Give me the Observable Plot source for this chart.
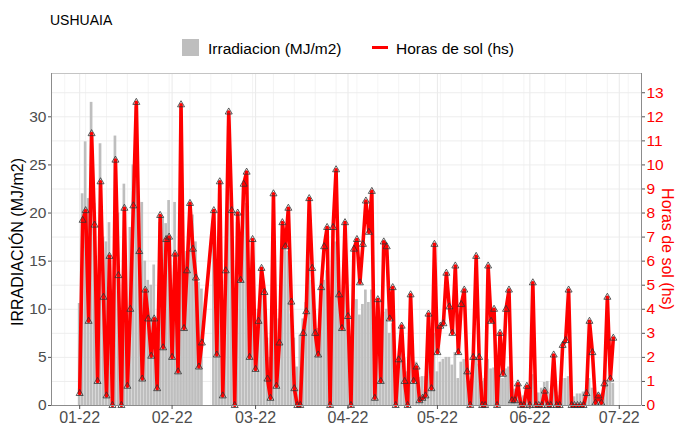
<!DOCTYPE html>
<html><head><meta charset="utf-8">
<script src="https://cdn.jsdelivr.net/npm/d3@7"></script>
<script src="https://cdn.jsdelivr.net/npm/@observablehq/plot@0.6"></script>
<style>
body{margin:0;background:#fff;}
#chart{width:676px;height:425px;}
</style></head><body>
<div id="chart"></div>
<script>
// ---- data (daily values, 2022-01-01 .. 2022-06-29) ----
const inicio = "2022-01-01";
const irradiacion = [
 10.6,22.0,27.4,21.5,31.5,21.0,11.0,27.2,17.5,17.0,19.0,12.0,28.0,20.0,8.0,23.0,10.0,18.5,25.0,31.0,20.0,21.1,15.0,13.0,12.5,14.6,9.0,19.0,19.6,18.9,21.3,
 10.0,21.1,9.0,31.0,12.0,16.0,20.0,19.8,17.0,12.8,12.1,null,null,null,18.0,8.0,22.0,6.0,14.0,29.0,20.3,6.0,19.0,14.4,20.0,21.0,8.0,15.0,
 7,10,13,12,7,5,18,5,9,16,16.5,16,9.5,7,4,7.3,9,10.7,16,13,9,8,10.5,13,14,5,13,17,12.5,8,13,
 9,4,12,11,9.4,10.5,12,10.7,12,4,8.5,5,9.7,10,7.5,8.5,3.5,5,6.2,4.9,3.5,6.5,4,4.5,2.9,3,3,5.5,3,7.5,
 3.5,4.5,4.8,5,5,4.2,5.5,2.8,4.5,4.8,4.3,1.5,4.2,5,4.3,2.5,2.8,4.8,3.8,3.9,1.8,3.5,2.8,3.8,4,1.2,1.7,2.0,0.8,1.0,1.8,
 1.2,3.2,1.0,1.3,1.8,2.4,2.5,1.2,2.6,1.4,1.0,2.8,2.8,3.0,1.2,0.9,1.2,1.2,1.4,1.5,2.8,1.8,1.0,1.3,1.2,1.5,2.6,2.4,2.3
];
const horas = [
 0.5,7.7,8.1,3.5,11.3,7.5,1.0,9.3,4.5,0.4,6.2,0,10.2,5.4,0,8.2,0.8,4.0,8.3,12.6,6.4,1.1,4.8,3.6,2.05,3.6,0.7,7.9,2.4,6.9,7.0,
 2.0,6.3,1.4,12.5,3.2,5.6,8.4,6.5,5.3,1.6,2.6,null,null,null,8.1,2.1,9.3,0.4,5.6,12.2,8.1,0,8.0,5.2,9.2,9.7,2.0,6.9,
 1.5,3.5,5.7,4.7,1.1,0.3,8.8,0.8,2.6,7.6,6.6,8.2,4.3,0.7,0,0,3.0,3.9,8.6,5.7,3.0,2.1,4.9,6.6,7.4,0,7.4,9.8,4.6,3.2,7.6,
 3.7,0,6.5,6.9,5.1,6.7,8.5,7.2,8.9,0.3,4.4,1.0,6.8,6.6,3.6,4.9,0,1.9,3.3,1.0,0,4.6,1.0,1.6,0.2,0.3,0.4,3.8,0.7,6.7,
 2.2,3.3,3.4,5.5,4.1,3.0,5.8,2.2,4.2,4.8,1.4,0,2.0,6.2,2.0,0,0,5.8,3.5,4.0,0,3.0,1.3,4.0,4.8,0.2,0.2,0.9,0,0,0.8,
 0,5.1,0,0,0,0.6,0,0,2.1,0,0,2.5,2.7,4.8,0,0,0,0,0,0.5,3.5,2.2,0.1,0.4,0.1,0.9,4.5,1.1,2.8
];
const ticksMes = ["2022-01-01","2022-02-01","2022-03-01","2022-04-01","2022-05-01","2022-06-01","2022-07-01"];
const ticksIrr = [0,5,10,15,20,25,30];
const ticksHoras = [0,1,2,3,4,5,6,7,8,9,10,11,12,13];
const factor = 2.5; // MJ/m2 per hour on the secondary axis

// ---- build table ----
const DAY = 864e5;
const t0 = new Date(inicio + "T00:00:00Z");
const tabla = irradiacion.map((v, i) => ({fecha: new Date(+t0 + i * DAY), irr: v, hs: horas[i]}));
const barras = tabla.filter(d => d.irr != null);
const linea = tabla.filter(d => d.hs != null);
const mesDates = ticksMes.map(s => new Date(s + "T00:00:00Z"));
const xDomain = [new Date(+t0 - 9.45 * DAY), new Date(+t0 + 188.45 * DAY)];
const minorX = d3.utcMonday.range(new Date(+xDomain[0] - 7 * DAY), xDomain[1]).filter(d => d >= xDomain[0]);
const gridY = ticksHoras.map(h => h * factor);

const font = "'Liberation Sans', Arial, Helvetica, sans-serif";

const svg = Plot.plot({
  width: 676, height: 425,
  marginTop: 73, marginBottom: 20, marginLeft: 51, marginRight: 35,
  style: {fontFamily: font, background: "#fff", overflow: "visible"},
  x: {type: "utc", domain: xDomain},
  y: {domain: [0, 34.5]},
  marks: [
    Plot.ruleX(minorX, {stroke: "#ececec", strokeWidth: 0.6}),
    Plot.ruleX(mesDates, {stroke: "#ebebeb", strokeWidth: 1.1}),
    Plot.ruleY(gridY, {stroke: "#ebebeb", strokeWidth: 0.9}),
    Plot.rectY(barras, {x1: d => new Date(+d.fecha - 0.45 * DAY), x2: d => new Date(+d.fecha + 0.45 * DAY), y: "irr", fill: "#bebebe"}),
    Plot.line(linea, {x: "fecha", y: d => d.hs * factor, stroke: "#ff0000", strokeWidth: 3.6, strokeLinejoin: "round"}),
    Plot.dot(linea, {x: "fecha", y: d => d.hs * factor, symbol: "triangle", r: 2.6, stroke: "#333", strokeWidth: 0.8, fill: "none"}),
    Plot.frame({stroke: "#c4c4c4"}),
    Plot.ruleX([xDomain[0], xDomain[1]], {stroke: "#8c8c8c", strokeWidth: 1}),
    Plot.ruleY([0], {stroke: "#8c8c8c", strokeWidth: 1}),
    Plot.axisY(ticksIrr, {anchor: "left", tickSize: 3, tickPadding: 2, fontSize: 15.5, fill: "#4d4d4d", stroke: "#555", label: null}),
    Plot.axisY(gridY, {anchor: "right", tickSize: 3, tickPadding: 2, fontSize: 15.5, fill: "#ff0000", stroke: "#555", tickFormat: d => String(Math.round(d / factor)), label: null}),
    Plot.axisX(mesDates, {anchor: "bottom", tickSize: 4, tickPadding: 2, fontSize: 16, fill: "#4d4d4d", stroke: "#555", tickFormat: d3.utcFormat("%m-%y"), label: null})
  ]
});
document.getElementById("chart").appendChild(svg);

// ---- titles and legend ----
const s = d3.select(svg);
s.append("text").attr("x", 50).attr("y", 25).attr("text-anchor", "start").attr("font-size", 14).attr("fill", "#000").attr("font-family", font).text("USHUAIA");
s.append("text").attr("transform", "translate(23,242) rotate(-90)").attr("text-anchor", "middle")
  .attr("font-size", 16).attr("fill", "#000").attr("font-family", font).text("IRRADIACIÓN (MJ/m2)");
s.append("text").attr("transform", "translate(662,249) rotate(90)").attr("text-anchor", "middle")
  .attr("font-size", 16).attr("fill", "#ff0000").attr("font-family", font).text("Horas de sol (hs)");
s.append("rect").attr("x", 182).attr("y", 39).attr("width", 17).attr("height", 17).attr("fill", "#bebebe");
s.append("text").attr("x", 208).attr("y", 53.5).attr("text-anchor", "start").attr("font-size", 15.5).attr("fill", "#000").attr("font-family", font).text("Irradiacion (MJ/m2)");
s.append("line").attr("x1", 372).attr("x2", 388).attr("y1", 47.5).attr("y2", 47.5).attr("stroke", "#ff0000").attr("stroke-width", 3);
s.append("text").attr("x", 396).attr("y", 53.5).attr("text-anchor", "start").attr("font-size", 15.5).attr("fill", "#000").attr("font-family", font).text("Horas de sol (hs)");
</script>
</body></html>
